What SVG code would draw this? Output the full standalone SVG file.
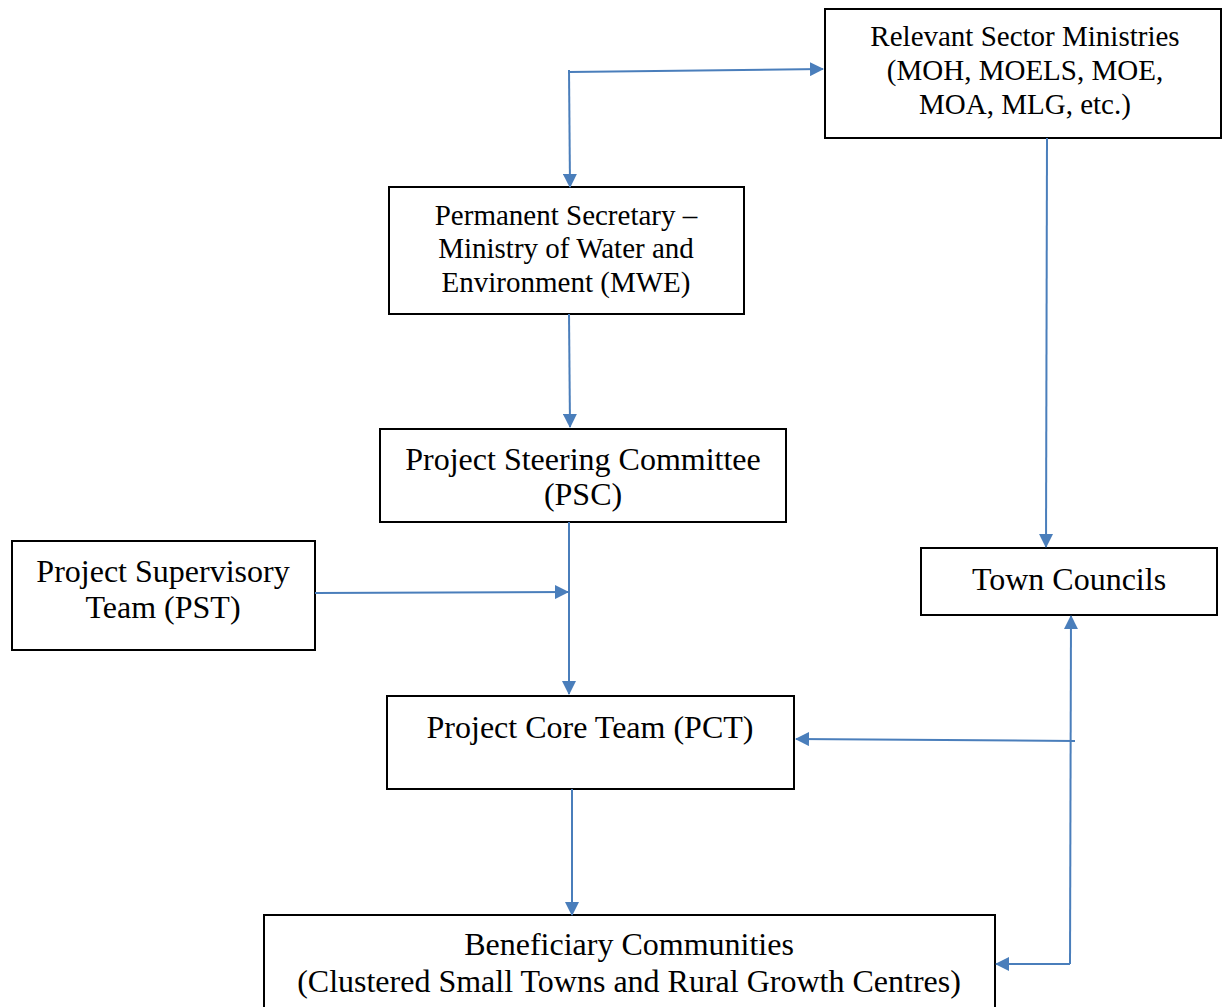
<svg xmlns="http://www.w3.org/2000/svg" width="1222" height="1007" viewBox="0 0 1222 1007">
<defs>
<marker id="ah" markerWidth="14" markerHeight="14" viewBox="0 0 14 14" refX="13" refY="7" orient="auto" markerUnits="userSpaceOnUse">
<path d="M0,0 L14,7 L0,14 Z" fill="#4a7ebb"/>
</marker>
<style>
.box{fill:#fff;stroke:#000;stroke-width:2}
.t{font-family:"Liberation Serif","Times New Roman",serif;fill:#000;text-anchor:middle}
.s{font-size:29px}
.l{font-size:32px}
.c{fill:none;stroke:#4a7ebb;stroke-width:2}
</style>
</defs>
<rect width="1222" height="1007" fill="#fff"/>
<g id="n-relevant">
<rect class="box" x="825" y="9" width="396" height="129"/>
<text class="t s" x="1025" y="46">Relevant Sector Ministries</text>
<text class="t s" x="1025" y="80">(MOH, MOELS, MOE,</text>
<text class="t s" x="1025" y="114">MOA, MLG, etc.)</text>
</g>
<g id="n-ps">
<rect class="box" x="389" y="187" width="355" height="127"/>
<text class="t s" x="566" y="225">Permanent Secretary –</text>
<text class="t s" x="566" y="258">Ministry of Water and</text>
<text class="t s" x="566" y="292">Environment (MWE)</text>
</g>
<g id="n-psc">
<rect class="box" x="380" y="429" width="406" height="93"/>
<text class="t l" x="583" y="470">Project Steering Committee</text>
<text class="t l" x="583" y="505">(PSC)</text>
</g>
<g id="n-pst">
<rect class="box" x="12" y="541" width="303" height="109"/>
<text class="t l" x="163" y="582">Project Supervisory</text>
<text class="t l" x="163" y="618">Team (PST)</text>
</g>
<g id="n-town">
<rect class="box" x="921" y="548" width="296" height="67"/>
<text class="t l" x="1069" y="590">Town Councils</text>
</g>
<g id="n-pct">
<rect class="box" x="387" y="696" width="407" height="93"/>
<text class="t l" x="590" y="738">Project Core Team (PCT)</text>
</g>
<g id="n-benef">
<rect class="box" x="264" y="915" width="731" height="100"/>
<text class="t l" x="629" y="955">Beneficiary Communities</text>
<text class="t l" x="629" y="992">(Clustered Small Towns and Rural Growth Centres)</text>
</g>
<g id="connectors">
<path class="c" d="M569,72 L823,69" marker-end="url(#ah)"/>
<path class="c" d="M569,70 L570,187" marker-end="url(#ah)"/>
<path class="c" d="M569,314 L570,427" marker-end="url(#ah)"/>
<path class="c" d="M569,522 L569,694" marker-end="url(#ah)"/>
<path class="c" d="M315,593 L568,592" marker-end="url(#ah)"/>
<path class="c" d="M1047,138 L1046,547" marker-end="url(#ah)"/>
<path class="c" d="M572,789 L572,915" marker-end="url(#ah)"/>
<path class="c" d="M1075,741 L796,739" marker-end="url(#ah)"/>
<path class="c" d="M1070,964 L1071,616" marker-end="url(#ah)"/>
<path class="c" d="M1070,964 L996,964" marker-end="url(#ah)"/>
</g>
</svg>
